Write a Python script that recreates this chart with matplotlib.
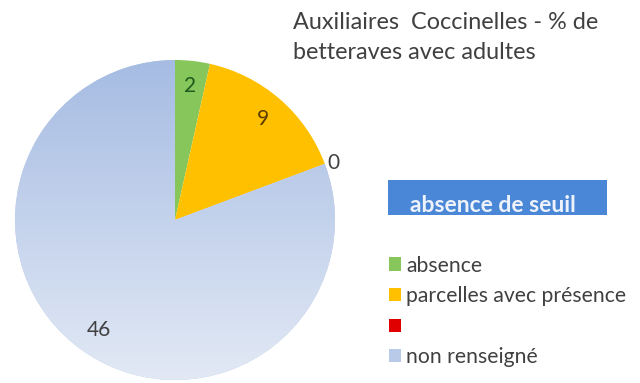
import numpy as np
import matplotlib

matplotlib.use("Agg")
import matplotlib.pyplot as plt  # noqa: E402
from matplotlib.colors import to_rgb  # noqa: E402
from matplotlib.patches import Rectangle, Patch  # noqa: E402

plt.rcParams["font.family"] = ["Lato", "DejaVu Sans"]

# Données du camembert
categories = ["absence", "parcelles avec présence", "", "non renseigné"]
values = [2, 9, 0, 46]
colors = ["#86C65A", "#FFC000", "#E00000", "#B9C9E8"]
label_colors = ["#1F5A1F", "#5A3C00", "#404040", "#404040"]
titre = "Auxiliaires  Coccinelles - % de\nbetteraves avec adultes"
seuil = "absence de seuil"

W, H = 640, 383
fig = plt.figure(figsize=(W / 100, H / 100), dpi=100)

# Camembert : centre (175, 220) px, rayon 160 px
cx, cy, r = 175, 220, 160
ax = fig.add_axes([(cx - r) / W, (H - cy - r) / H, 2 * r / W, 2 * r / H])
wedges, _ = ax.pie(values, colors=colors, startangle=90, counterclock=False,
                   radius=1, wedgeprops=dict(linewidth=0))

# dégradé vertical sur la part "non renseigné"
top, bottom = np.array(to_rgb("#A6BCE3")), np.array(to_rgb("#E2E9F5"))
t = np.linspace(0, 1, 256)[:, None, None]
grad = top * (1 - t) + bottom * t
img = ax.imshow(grad, extent=(-1, 1, -1, 1), origin="upper", aspect="auto", zorder=2)
img.set_clip_path(wedges[3])

ax.set_xlim(-1, 1)
ax.set_ylim(-1, 1)
ax.set_aspect("equal")
ax.axis("off")

# étiquettes de valeurs
for w, v, c in zip(wedges, values, label_colors):
    ang = np.deg2rad((w.theta1 + w.theta2) / 2)
    if v == 0:
        ax.text(1.02 * np.cos(ang), 1.02 * np.sin(ang), str(v), ha="left", va="center",
                fontsize=15, color=c, zorder=5)
    else:
        ax.text(0.84 * np.cos(ang), 0.84 * np.sin(ang), str(v), ha="center", va="center",
                fontsize=15, color=c, zorder=5)

# titre
fig.text(293 / W, 1 - 12 / H, titre, ha="left", va="top", fontsize=16.8,
         color="#404040", linespacing=1.55)

# encadré bleu
fig.patches.append(Rectangle((388 / W, 1 - 215 / H), 219 / W, 35 / H,
                             transform=fig.transFigure, facecolor="#4A87D6",
                             edgecolor="none"))
fig.text(493 / W, 1 - 205 / H, seuil, ha="center", va="center", fontsize=16.5,
         fontweight="bold", color="#EEF2FA")

# légende
handles = [Patch(facecolor=c, edgecolor="none") for c in colors]
fig.legend(handles, categories, loc="upper left", bbox_to_anchor=(378 / W, 1 - 245 / H),
           frameon=False, fontsize=15.2, handlelength=0.6, handleheight=0.6,
           handletextpad=0.25, labelspacing=0.5, borderpad=0, labelcolor="#404040")

fig.savefig("out.png", dpi=100, facecolor="white")
